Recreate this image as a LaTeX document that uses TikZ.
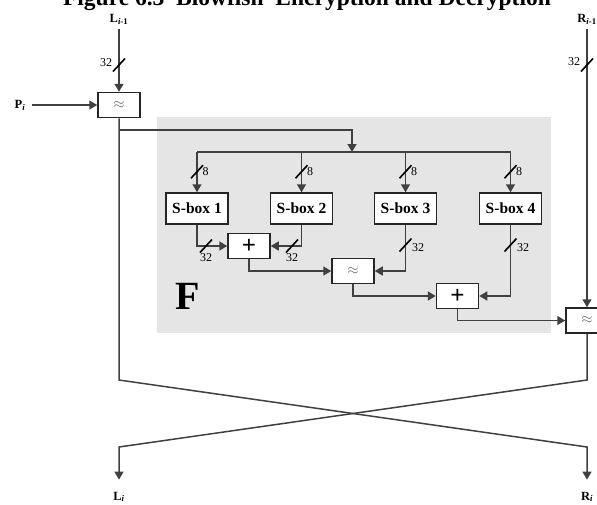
\documentclass[tikz,border=0pt]{standalone}
\usepackage{fontspec}
\setmainfont{Liberation Serif}
\usetikzlibrary{arrows.meta,calc}
\tikzset{buswidth/.pic={\draw[black,line width=1.6pt] (-6,-6.5) -- (6,6.5);}}
\begin{document}
\begin{tikzpicture}[x=1pt,y=1pt,
  wire/.style={draw=black!75,line width=1.5pt},
  arr/.style={wire,-{Triangle[length=8pt,width=9pt]}},
  sbox/.style={draw=black!85,line width=1.5pt,fill=white,minimum width=62pt,minimum height=31pt,inner sep=0pt,font=\fontsize{15.5}{15.5}\selectfont\bfseries},
  opbox/.style={draw=black!85,line width=1.5pt,fill=white,minimum width=42pt,minimum height=25pt,inner sep=0pt},
  lbl/.style={inner sep=0pt,font=\fontsize{12.5}{12.5}\selectfont\bfseries},
  num/.style={inner sep=0pt,font=\fontsize{12}{12}\selectfont}]
\useasboundingbox (0,0) rectangle (597,-504);
% title, cut off by the top of the page
\node[anchor=base,font=\fontsize{23.5}{23.5}\selectfont\bfseries] (title) at (307,-5.5) {Figure 6.3\enspace Blowfish\enspace Encryption and Decryption};
% the F function
\fill[black!10] (157,-117) rectangle (551,-333);
\node[inner sep=0pt,font=\fontsize{40}{40}\selectfont\bfseries] (f) at (188,-296) {F};
% inputs and outputs
\node[lbl] (lin) at (119,-19) {L\textsubscript{\textit{i}-1}};
\node[lbl] (rin) at (587,-19) {R\textsubscript{\textit{i}-1}};
\node[lbl] (p) at (20,-105) {P\textsubscript{\textit{i}}};
\node[lbl,anchor=base] (lout) at (119,-500) {L\textsubscript{\textit{i}}};
\node[lbl,anchor=base] (rout) at (587,-500) {R\textsubscript{\textit{i}}};
% boxes
\node[opbox] (x1) at (119,-105) {\color{black!60}\fontsize{14}{14}\selectfont$\approx$};
\node[sbox] (s1) at (197,-208.5) {S-box 1};
\node[sbox] (s2) at (301.5,-208.5) {S-box 2};
\node[sbox] (s3) at (405.5,-208.5) {S-box 3};
\node[sbox] (s4) at (510.5,-208.5) {S-box 4};
\node[opbox] (a1) at (249,-246) {\fontsize{25}{25}\selectfont\bfseries +};
\node[opbox] (x2) at (353,-271) {\color{black!60}\fontsize{14}{14}\selectfont$\approx$};
\node[opbox] (a2) at (457.5,-296) {\fontsize{25}{25}\selectfont\bfseries +};
\node[opbox] (x3) at (587,-320.5) {\color{black!60}\fontsize{14}{14}\selectfont$\approx$};
\coordinate (tap) at (119,-130);
\coordinate (split) at (352,-152);
\coordinate (ltop) at (119,-380);
\coordinate (lbot) at (119,-447);
\coordinate (rtop) at (587,-380);
\coordinate (rbot) at (587,-447);
% wires
\draw[arr,shorten <=5pt] (lin.south) -- (x1);
\draw[arr,shorten <=7pt] (p.east) -- (x1);
\draw[arr,shorten <=5pt] (rin.south) -- (x3);
\draw[arr] (tap) -| (split);
\draw[wire] (s1.north |- split) -- (s4.north |- split);
\foreach \s in {s1,s2,s3,s4} {
  \draw[arr] (\s.north |- split) -- (\s.north);
  \pic at ($(\s.north)+(0,20.5)$) {buswidth};
  \node[num] (\s-w) at ($(\s.north)+(8.5,20.5)$) {8};
}
\draw[arr] (s1) |- (a1);
\draw[arr] (s2) |- (a1);
\draw[arr] (a1) |- (x2);
\draw[arr] (s3) |- (x2);
\draw[arr] (x2) |- (a2);
\draw[arr] (s4) |- (a2);
\draw[arr] (a2) |- (x3);
\draw[arr,shorten >=12pt] (x1) -- (ltop) -- (rbot) -- (rbot |- rout.north);
\draw[arr,shorten >=12pt] (x3) -- (rtop) -- (lbot) -- (lbot |- lout.north);
% bus widths
\pic at (119,-65) {buswidth};
\node[num] (lw) at (106,-63) {32};
\pic at (587,-65) {buswidth};
\node[num] (rw) at (574,-62) {32};
\pic at (206,-246) {buswidth};
\node[num] (s1o) at (206,-258) {32};
\pic at (292,-246) {buswidth};
\node[num] (s2o) at (292,-258) {32};
\pic at (405.5,-245) {buswidth};
\node[num] (s3o) at (418,-248) {32};
\pic at (510.5,-245) {buswidth};
\node[num] (s4o) at (523,-248) {32};
\end{tikzpicture}
\end{document}
